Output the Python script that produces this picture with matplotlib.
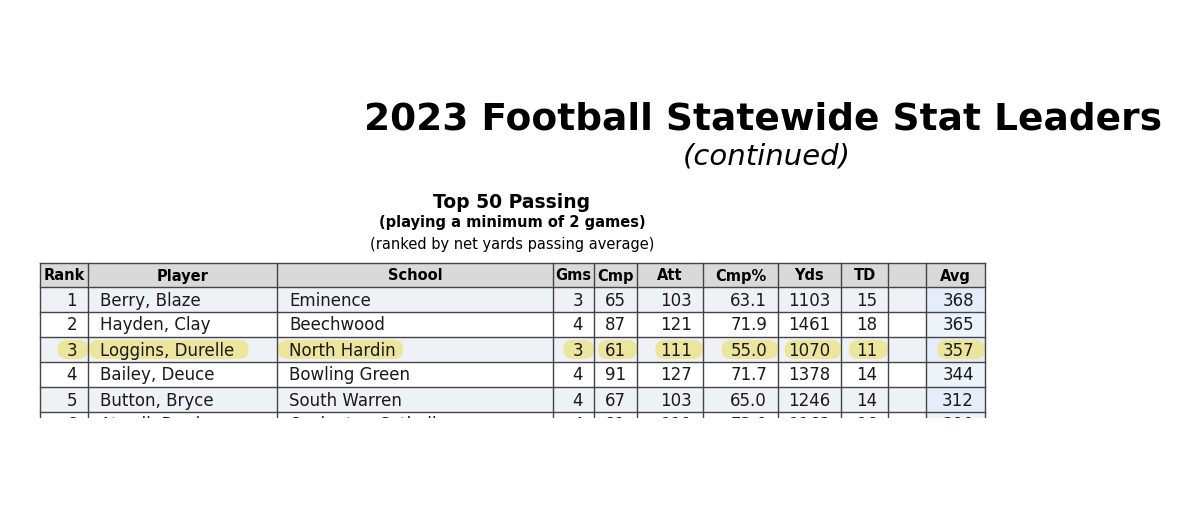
import matplotlib.pyplot as plt
from matplotlib.patches import Rectangle, FancyBboxPatch

# table data
headers = ["Rank", "Player", "School", "Gms", "Cmp", "Att", "Cmp%", "Yds", "TD", "", "Avg"]
ranks = ["1", "2", "3", "4", "5", "6"]
players = ["Berry, Blaze", "Hayden, Clay", "Loggins, Durelle", "Bailey, Deuce", "Button, Bryce", "Atwell, Brady"]
schools = ["Eminence", "Beechwood", "North Hardin", "Bowling Green", "South Warren", "Covington Catholic"]
games = ["3", "4", "3", "4", "4", "4"]
cmp_ = ["65", "87", "61", "91", "67", "81"]
att = ["103", "121", "111", "127", "103", "111"]
cmp_pct = ["63.1", "71.9", "55.0", "71.7", "65.0", "73.0"]
yds = ["1103", "1461", "1070", "1378", "1246", "1163"]
td = ["15", "18", "11", "14", "14", "16"]
avg = ["368", "365", "357", "344", "312", "290"]
highlight_row = 2

col_edges = [40, 88, 277, 553, 594, 637, 703, 778, 841, 888, 926, 985]
aligns = ["right", "left", "left", "right", "right", "right", "right", "right", "right", "right", "right"]
header_top, header_bot, row_h = 263, 287, 25
cut_y = 418

fig = plt.figure(figsize=(12, 5.26), dpi=100)
ax = fig.add_axes([0, 0, 1, 1])
ax.set_xlim(0, 1200)
ax.set_ylim(526, 0)
ax.axis("off")

ax.text(763, 120, "2023 Football Statewide Stat Leaders", fontsize=27, fontweight="bold",
        ha="center", va="center")
ax.text(767, 156, "(continued)", fontsize=21, style="italic", ha="center", va="center")
ax.text(512, 202, "Top 50 Passing", fontsize=13.5, fontweight="bold", ha="center", va="center")
ax.text(512, 223, "(playing a minimum of 2 games)", fontsize=10.5, fontweight="bold",
        ha="center", va="center")
ax.text(512, 244, "(ranked by net yards passing average)", fontsize=10.5, ha="center", va="center")

# header
ax.add_patch(Rectangle((col_edges[0], header_top), col_edges[-1] - col_edges[0],
                       header_bot - header_top, fc="#d9d9d9", ec="none"))
for i, h in enumerate(headers):
    cx = (col_edges[i] + col_edges[i + 1]) / 2
    ax.text(cx, (header_top + header_bot) / 2 + 1, h, fontsize=10.5, fontweight="bold",
            ha="center", va="center")

columns = [ranks, players, schools, games, cmp_, att, cmp_pct, yds, td, [""] * 6, avg]
for r in range(len(ranks)):
    y0 = header_bot + r * row_h
    bg = "#eef2f7" if r % 2 == 0 else "white"
    ax.add_patch(Rectangle((col_edges[0], y0), col_edges[-1] - col_edges[0], row_h,
                           fc=bg, ec="none"))
    ax.add_patch(Rectangle((col_edges[10], y0), col_edges[11] - col_edges[10], row_h,
                           fc="#e4edf9" if r % 2 == 0 else "#edf3fb", ec="none"))
    yc = y0 + row_h / 2 + 1
    for c, col in enumerate(columns):
        val = col[r]
        if not val:
            continue
        if aligns[c] == "left":
            x = col_edges[c] + 12
        else:
            x = col_edges[c + 1] - 11
        if r == highlight_row:
            w = len(val) * 8.6 + 22
            xl = x - 11 if aligns[c] == "left" else x - w + 11
            ax.add_patch(FancyBboxPatch((xl, y0 + 3), w, row_h - 6,
                                        boxstyle="round,pad=0,rounding_size=9.5",
                                        fc="#ece38d", ec="none", alpha=0.85))
        ax.text(x, yc, val, fontsize=12, ha=aligns[c], va="center", color="#1a1a1a")

# grid lines
bottom = header_bot + len(ranks) * row_h
for x in col_edges:
    ax.plot([x, x], [header_top, bottom], color="#444444", lw=1)
for y in [header_top, header_bot] + [header_bot + k * row_h for k in range(1, len(ranks) + 1)]:
    ax.plot([col_edges[0], col_edges[-1]], [y, y], color="#444444", lw=1)

# page is cut off below
ax.add_patch(Rectangle((0, cut_y), 1200, 526 - cut_y, fc="white", ec="none", zorder=5))

fig.savefig("out.png", dpi=100, facecolor="white")
